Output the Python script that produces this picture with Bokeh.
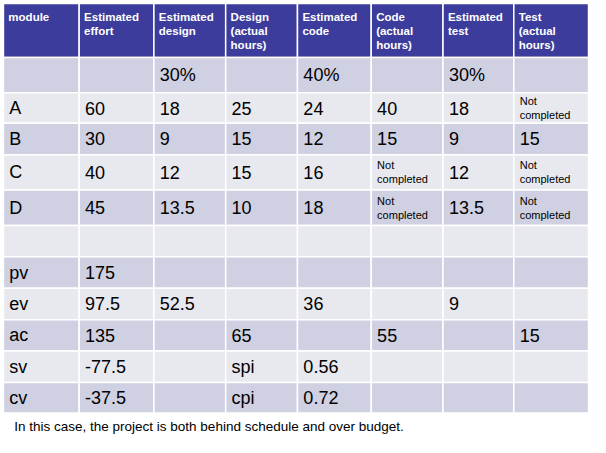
from bokeh.plotting import figure
from bokeh.embed import file_html
from bokeh.resources import INLINE
from bokeh.core.properties import value

headers = ["module", "Estimated\neffort", "Estimated\ndesign", "Design\n(actual\nhours)",
           "Estimated\ncode", "Code\n(actual\nhours)", "Estimated\ntest", "Test\n(actual\nhours)"]
rows = [
    ["", "", "30%", "", "40%", "", "30%", ""],
    ["A", "60", "18", "25", "24", "40", "18", "Not\ncompleted"],
    ["B", "30", "9", "15", "12", "15", "9", "15"],
    ["C", "40", "12", "15", "16", "Not\ncompleted", "12", "Not\ncompleted"],
    ["D", "45", "13.5", "10", "18", "Not\ncompleted", "13.5", "Not\ncompleted"],
    ["", "", "", "", "", "", "", ""],
    ["pv", "175", "", "", "", "", "", ""],
    ["ev", "97.5", "52.5", "", "36", "", "9", ""],
    ["ac", "135", "", "65", "", "55", "", "15"],
    ["sv", "-77.5", "", "spi", "0.56", "", "", ""],
    ["cv", "-37.5", "", "cpi", "0.72", "", "", ""],
]
caption = "In this case, the project is both behind schedule and over budget."

col_edges = [3, 80, 156, 229, 302, 377, 450, 522, 598]
row_edges = [3, 58, 94, 125, 157, 193, 229, 261, 293, 325, 357, 389, 420]

p = figure(width=590, height=437, x_range=(0, 600), y_range=(445, 0),
           output_backend="svg", toolbar_location=None, min_border=0)
p.axis.visible = False
p.grid.visible = False
p.outline_line_color = None

FONT = value("Liberation Sans")

# header
p.quad(left=col_edges[:-1], right=col_edges[1:], top=[row_edges[0]] * 8, bottom=[row_edges[1]] * 8,
       fill_color="#3C3C9C", line_color="white", line_width=1.5)
p.text(x=[col_edges[c] + 5 for c in range(8)], y=[row_edges[0] + 8] * 8, text=headers,
       text_font=FONT, text_font_style="bold", text_font_size="11.5px", text_color="white",
       text_baseline="top", text_line_height=1.15)

# body
for r, row in enumerate(rows):
    top, bot = row_edges[r + 1], row_edges[r + 2]
    color = "#CFD0E2" if r % 2 == 0 else "#E8E8EF"
    p.quad(left=col_edges[:-1], right=col_edges[1:], top=[top] * 8, bottom=[bot] * 8,
           fill_color=color, line_color="white", line_width=1.5)
    big_x, big_t, small_x, small_t = [], [], [], []
    for c, t in enumerate(row):
        if "\n" in t:
            small_x.append(col_edges[c] + 6); small_t.append(t)
        elif t:
            big_x.append(col_edges[c] + 6); big_t.append(t)
    if big_t:
        p.text(x=big_x, y=[(top + bot) / 2] * len(big_t), text=big_t, text_font=FONT,
               text_font_size="18px", text_color="black", text_baseline="middle")
    if small_t:
        p.text(x=small_x, y=[(top + bot) / 2] * len(small_t), text=small_t, text_font=FONT,
               text_font_size="11px", text_color="black", text_baseline="middle",
               text_line_height=1.15)

p.text(x=[14], y=[434], text=[caption], text_font=FONT, text_font_size="13.5px",
       text_color="black", text_baseline="middle")

open("out.html", "w").write(file_html(p, INLINE))
